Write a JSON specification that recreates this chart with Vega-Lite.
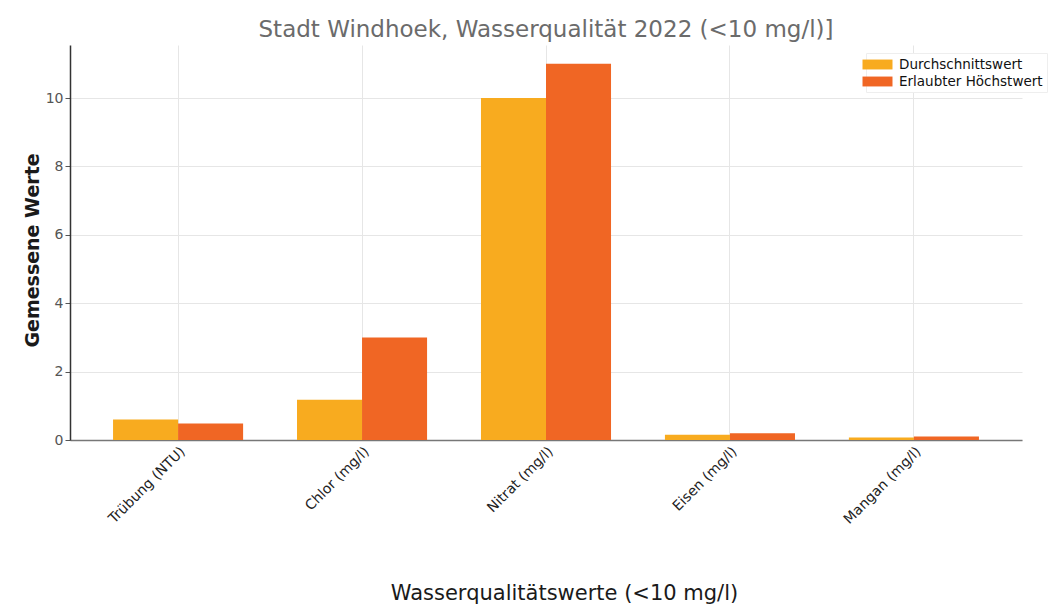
{
  "$schema": "https://vega.github.io/schema/vega-lite/v6.json",
  "autosize": "none",
  "width": 952,
  "height": 395,
  "padding": {"left": 70, "top": 45, "right": 29, "bottom": 173},
  "background": "#ffffff",
  "title": {
    "text": "Stadt Windhoek, Wasserqualität 2022 (<10 mg/l)]",
    "anchor": "middle",
    "font": "DejaVu Sans",
    "fontSize": 23,
    "fontWeight": "normal",
    "color": "#6b6b6b",
    "offset": 3
  },
  "data": {
    "values": [
      {"Parameter": "Trübung (NTU)", "Serie": "Durchschnittswert", "Wert": 0.6},
      {"Parameter": "Trübung (NTU)", "Serie": "Erlaubter Höchstwert", "Wert": 0.48},
      {"Parameter": "Chlor (mg/l)", "Serie": "Durchschnittswert", "Wert": 1.18},
      {"Parameter": "Chlor (mg/l)", "Serie": "Erlaubter Höchstwert", "Wert": 3.0},
      {"Parameter": "Nitrat (mg/l)", "Serie": "Durchschnittswert", "Wert": 10.0},
      {"Parameter": "Nitrat (mg/l)", "Serie": "Erlaubter Höchstwert", "Wert": 11.0},
      {"Parameter": "Eisen (mg/l)", "Serie": "Durchschnittswert", "Wert": 0.15},
      {"Parameter": "Eisen (mg/l)", "Serie": "Erlaubter Höchstwert", "Wert": 0.2},
      {"Parameter": "Mangan (mg/l)", "Serie": "Durchschnittswert", "Wert": 0.07},
      {"Parameter": "Mangan (mg/l)", "Serie": "Erlaubter Höchstwert", "Wert": 0.1}
    ]
  },
  "mark": {"type": "bar"},
  "encoding": {
    "x": {
      "field": "Parameter",
      "type": "nominal",
      "sort": null,
      "scale": {"paddingInner": 0.293, "paddingOuter": 0.234},
      "axis": {
        "title": "Wasserqualitätswerte (<10 mg/l)",
        "titleFont": "DejaVu Sans",
        "titleFontSize": 21,
        "titleFontWeight": "normal",
        "titleColor": "#1a1a1a",
        "titleX": 494,
        "titleY": 142,
        "titleBaseline": "top",
        "labelAngle": -45,
        "labelAlign": "right",
        "labelBaseline": "top",
        "labelFont": "DejaVu Sans",
        "labelFontSize": 14,
        "labelColor": "#222222",
        "labelPadding": 4,
        "ticks": false,
        "grid": true,
        "bandPosition": 0.5,
        "gridColor": "#e6e6e6",
        "domainColor": "#777777",
        "domainWidth": 1.5
      }
    },
    "xOffset": {"field": "Serie", "type": "nominal", "scale": {"paddingInner": 0}},
    "y": {
      "field": "Wert",
      "type": "quantitative",
      "scale": {"domain": [0, 11.55], "nice": false},
      "axis": {
        "title": "Gemessene Werte",
        "titleFont": "DejaVu Sans",
        "titleFontSize": 19,
        "titleFontWeight": "bold",
        "titleColor": "#1a1a1a",
        "titleX": -38,
        "titleY": 205,
        "titleAngle": -90,
        "titleAlign": "center",
        "titleBaseline": "middle",
        "values": [0, 2, 4, 6, 8, 10],
        "labelFont": "DejaVu Sans",
        "labelFontSize": 14,
        "labelColor": "#555555",
        "tickColor": "#555555",
        "tickSize": 5,
        "grid": true,
        "gridColor": "#e6e6e6",
        "domainColor": "#333333",
        "domainWidth": 1.5
      }
    },
    "color": {
      "field": "Serie",
      "type": "nominal",
      "scale": {
        "domain": ["Durchschnittswert", "Erlaubter Höchstwert"],
        "range": ["#f8ab1f", "#f06624"]
      },
      "legend": {
        "title": null,
        "orient": "none",
        "legendX": 796,
        "legendY": 8,
        "symbolType": "M-2,-0.66H2V0.66H-2Z",
        "symbolSize": 225,
        "symbolStrokeWidth": 0,
        "symbolOpacity": 1,
        "labelFont": "DejaVu Sans",
        "labelFontSize": 13.5,
        "labelColor": "#111111",
        "labelOffset": 14,
        "rowPadding": 3,
        "padding": 4,
        "strokeColor": "#eeeeee",
        "fillColor": "#ffffff"
      }
    }
  },
  "config": {
    "view": {"stroke": null}
  }
}
